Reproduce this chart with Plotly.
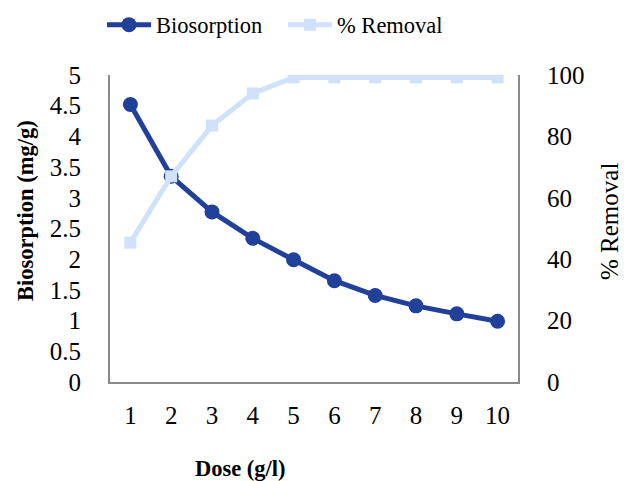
import plotly.graph_objects as go

dose = [1, 2, 3, 4, 5, 6, 7, 8, 9, 10]
biosorption = [4.52, 3.35, 2.77, 2.34, 1.99, 1.65, 1.41, 1.24, 1.11, 0.99]
removal = [45.4, 67, 83.5, 94, 99.2, 99.2, 99.2, 99.2, 99.2, 99.2]
left_ticks = [0, 0.5, 1, 1.5, 2, 2.5, 3, 3.5, 4, 4.5, 5]
left_labels = ["0", "0.5", "1", "1.5", "2", "2.5", "3", "3.5", "4", "4.5", "5"]
right_ticks = [0, 20, 40, 60, 80, 100]

dark = "#21409A"
light = "#CFE2FA"
axis_grey = "#898989"
font = "Liberation Serif, Times New Roman, serif"

W, H = 624, 481
L, R, T, B = 110, 106, 75, 99

fig = go.Figure()
fig.add_trace(go.Scatter(
    x=dose, y=removal, name="% Removal", yaxis="y2", mode="lines+markers",
    line=dict(color=light, width=5), marker=dict(symbol="square", size=12, color=light),
))
fig.add_trace(go.Scatter(
    x=dose, y=biosorption, name="Biosorption", mode="lines+markers",
    line=dict(color=dark, width=5), marker=dict(symbol="circle", size=15, color=dark),
))

def py(pix):
    return (H - B - pix) / (H - T - B)

def px(pix):
    return (pix - L) / (W - L - R)

fig.update_layout(
    width=W, height=H,
    margin=dict(l=L, r=R, t=T, b=B, autoexpand=False),
    plot_bgcolor="white", paper_bgcolor="white",
    font=dict(family=font, size=25, color="black"),
    showlegend=True,
    legend=dict(orientation="h", x=102 / W, xanchor="left", xref="container",
                y=1 - 25 / H, yanchor="middle", yref="container",
                traceorder="reversed", font=dict(size=22.5), itemwidth=44,
                entrywidth=122, entrywidthmode="pixels", tracegroupgap=0),
    xaxis=dict(
        range=[0.5, 10.5], tickmode="array", tickvals=dose, ticktext=[str(d) for d in dose],
        showline=True, linecolor=axis_grey, linewidth=2, mirror=False,
        showgrid=False, zeroline=False, ticks="", automargin=False,
        ticklabelstandoff=10,
    ),
    yaxis=dict(
        range=[0, 5], tickmode="array", tickvals=left_ticks, ticktext=left_labels,
        showline=True, linecolor=axis_grey, linewidth=2,
        showgrid=False, zeroline=False, ticks="", automargin=False,
        ticklabelstandoff=22,
    ),
    yaxis2=dict(
        range=[0, 100], tickmode="array", tickvals=right_ticks,
        overlaying="y", side="right",
        showline=True, linecolor=axis_grey, linewidth=2,
        showgrid=False, zeroline=False, ticks="", automargin=False,
        ticklabelstandoff=22,
    ),
    annotations=[
        dict(text="<b>Dose (g/l)</b>", xref="paper", yref="paper",
             x=px(240), y=py(468), showarrow=False, font=dict(size=22.5),
             xanchor="center", yanchor="middle"),
        dict(text="<b>Biosorption (mg/g)</b>", xref="paper", yref="paper",
             x=px(25), y=py(211), showarrow=False, textangle=-90, font=dict(size=22.5),
             xanchor="center", yanchor="middle"),
        dict(text="% Removal", xref="paper", yref="paper",
             x=px(609), y=py(222), showarrow=False, textangle=-90, font=dict(size=25),
             xanchor="center", yanchor="middle"),
    ],
)
fig.write_html("out.html", config={"displayModeBar": False},
               post_script="document.body.style.margin='0';document.body.style.overflow='hidden';")
